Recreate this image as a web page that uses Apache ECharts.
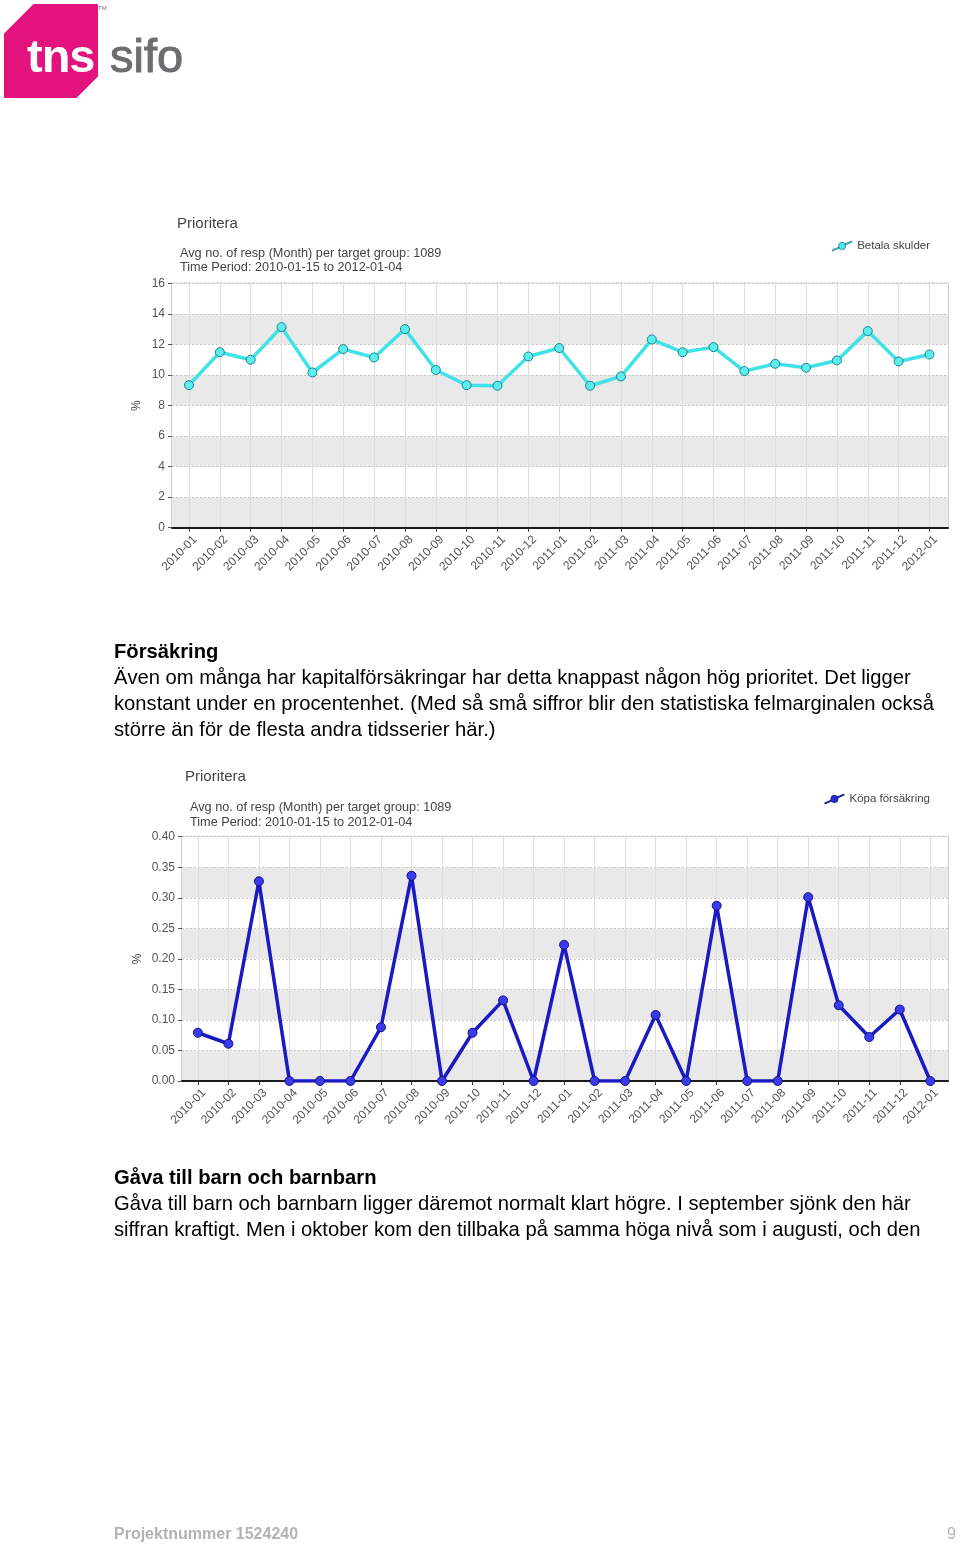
<!DOCTYPE html>
<html>
<head>
<meta charset="utf-8">
<script src="https://cdn.jsdelivr.net/npm/echarts@6/dist/echarts.min.js"></script>
<style>
  html, body { margin: 0; padding: 0; background: #fff; }
  body { width: 960px; height: 1547px; position: relative; overflow: hidden;
         font-family: "Liberation Sans", Arial, Helvetica, sans-serif; }
  #chart { position: absolute; left: 0; top: 0; width: 960px; height: 1547px; }
  .txt { position: absolute; left: 114px; font-size: 20.2px; line-height: 26px; color: #000; white-space: nowrap; }
  .txt b { font-weight: bold; }
  .foot { position: absolute; top: 1524px; font-size: 16px; font-weight: bold; color: #b3b3b3; line-height: 20px; }
</style>
</head>
<body>
<div id="chart"></div>

<svg style="position:absolute;left:0;top:0" width="200" height="105" viewBox="0 0 200 105">
  <path d="M34,5 L97,5 L97,76 L76,97 L5,97 L5,34 Z" fill="#e3127d" stroke="#e3127d" stroke-width="2" stroke-linejoin="round"/>
  <text x="27" y="72" font-family="Liberation Sans, Arial, sans-serif" font-weight="bold" font-size="47" fill="#ffffff" letter-spacing="-1">tns</text>
  <text x="110" y="72" font-family="Liberation Sans, Arial, sans-serif" font-size="47" fill="#6d6d70" stroke="#6d6d70" stroke-width="1">sifo</text>
  <text x="98" y="10" font-family="Liberation Sans, Arial, sans-serif" font-size="6" fill="#777">TM</text>
</svg>

<div class="txt" style="top:638px">
  <b>Försäkring</b><br>
  Även om många har kapitalförsäkringar har detta knappast någon hög prioritet. Det ligger<br>
  konstant under en procentenhet. (Med så små siffror blir den statistiska felmarginalen också<br>
  större än för de flesta andra tidsserier här.)
</div>

<div class="txt" style="top:1164px">
  <b>Gåva till barn och barnbarn</b><br>
  Gåva till barn och barnbarn ligger däremot normalt klart högre. I september sjönk den här<br>
  siffran kraftigt. Men i oktober kom den tillbaka på samma höga nivå som i augusti, och den
</div>

<div class="foot" style="left:114px">Projektnummer 1524240</div>
<div class="foot" style="left:947px;font-weight:normal">9</div>

<script>
// ---------------- data ----------------
const months = ['2010-01','2010-02','2010-03','2010-04','2010-05','2010-06','2010-07','2010-08','2010-09','2010-10','2010-11','2010-12',
                '2011-01','2011-02','2011-03','2011-04','2011-05','2011-06','2011-07','2011-08','2011-09','2011-10','2011-11','2011-12','2012-01'];
const betalaSkulder = [9.34, 11.50, 11.00, 13.14, 10.17, 11.70, 11.15, 13.01, 10.33, 9.34, 9.30, 11.22,
                       11.77, 9.30, 9.91, 12.33, 11.50, 11.83, 10.26, 10.74, 10.48, 10.96, 12.88, 10.89, 11.35];
const kopaForsakring = [0.079, 0.061, 0.327, 0, 0, 0, 0.088, 0.336, 0, 0.079, 0.132, 0,
                        0.223, 0, 0, 0.108, 0, 0.287, 0, 0, 0.301, 0.124, 0.072, 0.117, 0];
const chartTitle = 'Prioritera';
const subtitleLines = ['Avg no. of resp (Month) per target group: 1089', 'Time Period: 2010-01-15 to 2012-01-04'];
const seriesNames = ['Betala skulder', 'Köpa försäkring'];
const yTicks1 = [0, 2, 4, 6, 8, 10, 12, 14, 16];
const yTicks2 = [0, 0.05, 0.10, 0.15, 0.20, 0.25, 0.30, 0.35, 0.40];

// ---------------- styling helpers ----------------
const FONT = '"Liberation Sans", Arial, sans-serif';
const idx = months.map((m, i) => i);
const LABEL_SHIFT = 0.2;   // rotated labels sit slightly right of their tick, as in the original
const labelPos = idx.map(i => i + LABEL_SHIFT);
const legendIcon = 'path://M0,11 L8,7.6 L8,9.1 L0,12.5 Z M16,3.4 L24,0 L24,1.5 L16,4.9 Z M16.5,6.2 A4.5,4.5 0 1 1 7.5,6.2 A4.5,4.5 0 1 1 16.5,6.2 Z';

function xAxisFor(gi, min, max) {
  return {
    type: 'value', gridIndex: gi, min: min, max: max,
    axisLine: { show: true, onZero: false, lineStyle: { color: '#1a1a1a', width: 2 } },
    axisTick: { show: true, customValues: idx, length: 4, lineStyle: { color: '#333', width: 1 } },
    axisLabel: { customValues: labelPos, formatter: v => months[Math.round(v - LABEL_SHIFT)], rotate: 45, fontSize: 12,
                 color: '#555', fontFamily: FONT, margin: 10 },
    splitLine: { show: true, lineStyle: { color: '#dedede', width: 1 } }
  };
}
function yAxisFor(gi, ticks, fmt, nameGap) {
  return {
    type: 'value', gridIndex: gi, min: ticks[0], max: ticks[ticks.length - 1], interval: ticks[1] - ticks[0],
    name: '%', nameLocation: 'middle', nameRotate: 90, nameGap: nameGap, nameMoveOverlap: false,
    nameTextStyle: { fontSize: 12, color: '#444', fontFamily: FONT },
    axisLine: { show: false, onZero: false },
    axisTick: { show: true, length: 4, lineStyle: { color: '#555' } },
    axisLabel: { fontSize: 12, color: '#555', fontFamily: FONT, margin: 7, formatter: fmt },
    splitLine: { show: true, lineStyle: { color: '#c8c8c8', type: [2, 2], width: 1 } },
    splitArea: { show: true, areaStyle: { color: ['#e9e9e9', '#ffffff'] } }
  };
}
const titleStyle = { fontSize: 15, fontWeight: 'normal', color: '#444', fontFamily: FONT };
const subStyle = { fontSize: 12.7, fontWeight: 'normal', color: '#444', lineHeight: 14.5, fontFamily: FONT };
const legendText = { fontSize: 11.5, color: '#444', fontFamily: FONT };

const chart = echarts.init(document.getElementById('chart'), null, { renderer: 'canvas' });
chart.setOption({
  animation: false,
  backgroundColor: 'transparent',
  title: [
    { text: chartTitle, left: 177, top: 216, padding: 0, textStyle: titleStyle },
    { text: subtitleLines.join('\n'), left: 180, top: 246, padding: 0, textStyle: subStyle },
    { text: chartTitle, left: 185, top: 769, padding: 0, textStyle: titleStyle },
    { text: subtitleLines.join('\n'), left: 190, top: 800.5, padding: 0, textStyle: subStyle }
  ],
  legend: [
    { data: [{ name: seriesNames[0], icon: legendIcon, itemStyle: { color: '#4ee8ec', borderColor: '#23818a', borderWidth: 0.8 } }],
      right: 30, top: 240, padding: 0, itemWidth: 20, itemHeight: 10, itemGap: 4, textStyle: legendText },
    { data: [{ name: seriesNames[1], icon: legendIcon, itemStyle: { color: '#2a2ad8', borderColor: '#12127a', borderWidth: 0.8 } }],
      right: 30, top: 793, padding: 0, itemWidth: 20, itemHeight: 10, itemGap: 4, textStyle: legendText }
  ],
  grid: [
    { left: 172, top: 283.5, width: 776, height: 244.2, show: true, borderColor: '#d2d2d2', borderWidth: 2, backgroundColor: 'transparent' },
    { left: 182, top: 836.7, width: 766, height: 244.3, show: true, borderColor: '#d2d2d2', borderWidth: 2, backgroundColor: 'transparent' }
  ],
  xAxis: [ xAxisFor(0, -0.55, 24.6), xAxisFor(1, -0.52, 24.58) ],
  yAxis: [
    yAxisFor(0, yTicks1, v => String(v), 29),
    yAxisFor(1, yTicks2, v => v.toFixed(2), 38)
  ],
  series: [
    { type: 'line', name: seriesNames[0], xAxisIndex: 0, yAxisIndex: 0,
      data: months.map((m, i) => [i, betalaSkulder[i]]),
      symbol: 'circle', symbolSize: 9,
      lineStyle: { color: '#3fe2e6', width: 3.5 },
      itemStyle: { color: '#5aeef0', borderColor: '#23818a', borderWidth: 1 },
      emphasis: { disabled: true } },
    { type: 'line', name: seriesNames[1], xAxisIndex: 1, yAxisIndex: 1,
      data: months.map((m, i) => [i, kopaForsakring[i]]),
      symbol: 'circle', symbolSize: 9,
      lineStyle: { color: '#1a1ac2', width: 3.5 },
      itemStyle: { color: '#3a3aee', borderColor: '#12127a', borderWidth: 1 },
      emphasis: { disabled: true } }
  ]
});
</script>
</body>
</html>
